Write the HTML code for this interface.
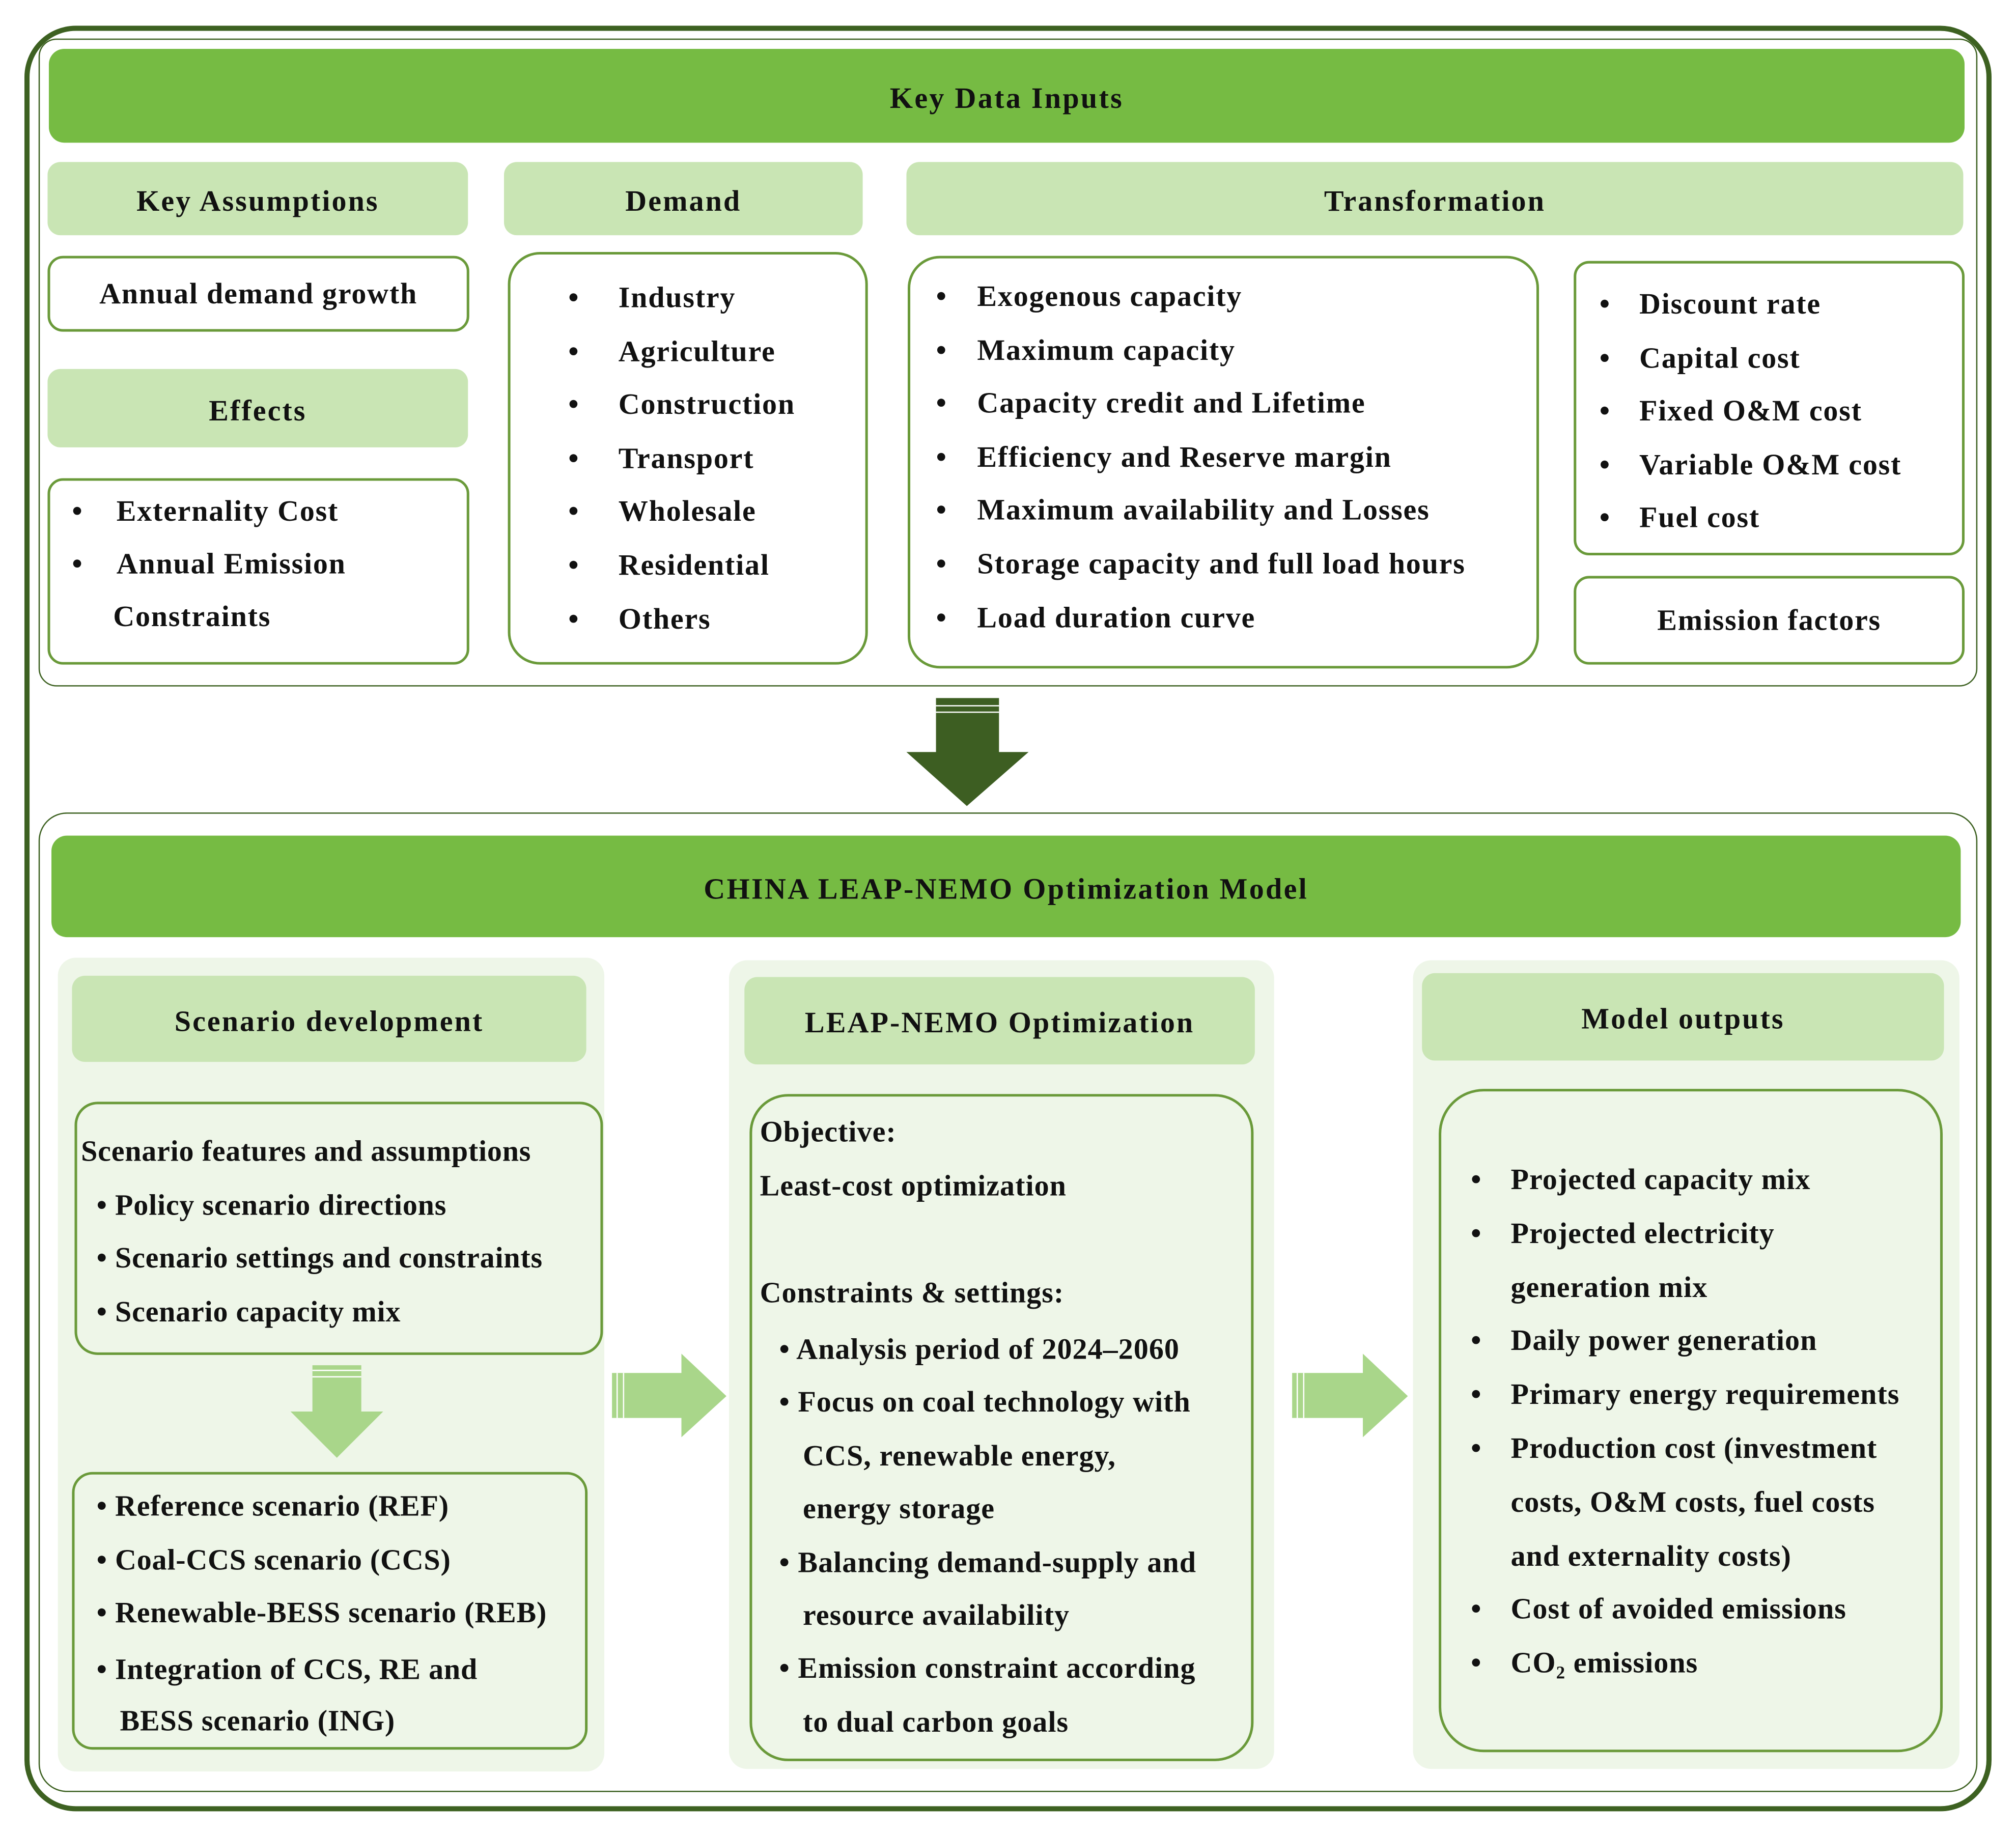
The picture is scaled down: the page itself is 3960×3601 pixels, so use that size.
<!DOCTYPE html>
<html><head><meta charset="utf-8"><style>
html,body{margin:0;padding:0;background:#fff;}
#c{position:absolute;left:0;top:0;width:1568px;height:1426px;transform:scale(2.5255);transform-origin:0 0;font-family:"Liberation Serif",serif;font-size:23px;font-weight:bold;letter-spacing:0.7px;color:#111;}
.a{position:absolute;box-sizing:border-box;}
.hd{background:#c9e5b4;border-radius:10px;display:flex;align-items:center;justify-content:center;letter-spacing:1.2px;padding-top:4px;}
.bx{border:2px solid #6a9a3a;border-radius:12px;background:#fff;}
.bar{background:#76bb43;border-radius:12px;display:flex;align-items:center;justify-content:center;letter-spacing:1.3px;padding-top:4px;}
.t{position:absolute;white-space:nowrap;line-height:28px;margin-top:-6px;}
.pn{background:#eef6e8;border-radius:14px;}
</style></head><body><div id="c">
<div class="a" style="left:19px;top:20px;width:1530px;height:1389px;border:4px solid #3d6121;border-radius:40px;"></div>
<div class="a" style="left:30px;top:30px;width:1508px;height:504px;border:1.5px solid #3d6121;border-radius:14px;"></div>
<div class="a" style="left:30px;top:632px;width:1508px;height:762px;border:1.5px solid #3d6121;border-radius:22px;"></div>

<div class="a bar" style="left:38px;top:38px;width:1490px;height:73px;">Key Data Inputs</div>
<div class="a hd" style="left:37px;top:126px;width:327px;height:57px;">Key Assumptions</div>
<div class="a hd" style="left:392px;top:126px;width:279px;height:57px;">Demand</div>
<div class="a hd" style="left:705px;top:126px;width:822px;height:57px;">Transformation</div>
<div class="a bx" style="left:37px;top:199px;width:328px;height:59px;display:flex;align-items:center;justify-content:center;">Annual demand growth</div>
<div class="a hd" style="left:37px;top:287px;width:327px;height:61px;">Effects</div>
<div class="a bx" style="left:37px;top:372px;width:328px;height:145px;"></div>
<div class="t" style="left:56px;top:390px;">•&nbsp;&nbsp;&nbsp;&nbsp;Externality Cost</div>
<div class="t" style="left:56px;top:431px;">•&nbsp;&nbsp;&nbsp;&nbsp;Annual Emission</div>
<div class="t" style="left:88px;top:472px;">Constraints</div>

<div class="a bx" style="left:395px;top:196px;width:280px;height:321px;border-radius:25px;"></div>
<div class="t" style="left:442px;top:217px;line-height:41.6px;">•<br>•<br>•<br>•<br>•<br>•<br>•</div>
<div class="t" style="left:481px;top:217px;line-height:41.6px;">Industry<br>Agriculture<br>Construction<br>Transport<br>Wholesale<br>Residential<br>Others</div>

<div class="a bx" style="left:706px;top:199px;width:491px;height:321px;border-radius:25px;"></div>
<div class="t" style="left:728px;top:216px;line-height:41.6px;">•<br>•<br>•<br>•<br>•<br>•<br>•</div>
<div class="t" style="left:760px;top:216px;line-height:41.6px;">Exogenous capacity<br>Maximum capacity<br>Capacity credit and Lifetime<br>Efficiency and Reserve margin<br>Maximum availability and Losses<br>Storage capacity and full load hours<br>Load duration curve</div>

<div class="a bx" style="left:1224px;top:203px;width:304px;height:229px;"></div>
<div class="t" style="left:1244px;top:222px;line-height:41.5px;">•<br>•<br>•<br>•<br>•</div>
<div class="t" style="left:1275px;top:222px;line-height:41.5px;">Discount rate<br>Capital cost<br>Fixed O&amp;M cost<br>Variable O&amp;M cost<br>Fuel cost</div>
<div class="a bx" style="left:1224px;top:448px;width:304px;height:69px;display:flex;align-items:center;justify-content:center;">Emission factors</div>

<svg class="a" style="left:0;top:0;" width="1568" height="1426">
<rect x="728" y="543" width="49" height="44" fill="#3d5e22"/>
<line x1="728" y1="549" x2="777" y2="549" stroke="#fff" stroke-width="1"/>
<line x1="728" y1="554" x2="777" y2="554" stroke="#fff" stroke-width="1"/>
<polygon points="705,585 800,585 752,627" fill="#3d5e22"/>
</svg>

<div class="a bar" style="left:40px;top:650px;width:1485px;height:79px;">CHINA LEAP-NEMO Optimization Model</div>
<div class="a pn" style="left:45px;top:745px;width:425px;height:633px;"></div>
<div class="a pn" style="left:567px;top:747px;width:424px;height:629px;"></div>
<div class="a pn" style="left:1099px;top:747px;width:425px;height:629px;"></div>
<div class="a hd" style="left:56px;top:759px;width:400px;height:67px;">Scenario development</div>
<div class="a hd" style="left:579px;top:760px;width:397px;height:68px;">LEAP-NEMO Optimization</div>
<div class="a hd" style="left:1106px;top:757px;width:406px;height:68px;">Model outputs</div>

<div class="a bx" style="left:58px;top:857px;width:411px;height:197px;border-radius:18px;background:#eef6e8;"></div>
<div class="t" style="left:63px;top:881px;line-height:41.6px;letter-spacing:0.3px;">Scenario features and assumptions<br>&nbsp;&nbsp;• Policy scenario directions<br>&nbsp;&nbsp;• Scenario settings and constraints<br>&nbsp;&nbsp;• Scenario capacity mix</div>

<svg class="a" style="left:0;top:0;" width="1568" height="1426">
<rect x="243" y="1062" width="38" height="38" fill="#a9d68a"/>
<line x1="243" y1="1066" x2="281" y2="1066" stroke="#fff" stroke-width="1"/>
<line x1="243" y1="1071" x2="281" y2="1071" stroke="#fff" stroke-width="1"/>
<polygon points="226,1098 298,1098 262,1134" fill="#a9d68a"/>
<rect x="476" y="1068" width="56" height="35" fill="#a9d68a"/>
<line x1="480" y1="1068" x2="480" y2="1103" stroke="#fff" stroke-width="1"/>
<line x1="485" y1="1068" x2="485" y2="1103" stroke="#fff" stroke-width="1"/>
<polygon points="530,1053 530,1118 565,1086" fill="#a9d68a"/>
<rect x="1005" y="1068" width="56" height="35" fill="#a9d68a"/>
<line x1="1009" y1="1068" x2="1009" y2="1103" stroke="#fff" stroke-width="1"/>
<line x1="1014" y1="1068" x2="1014" y2="1103" stroke="#fff" stroke-width="1"/>
<polygon points="1060,1053 1060,1118 1095,1086" fill="#a9d68a"/>
</svg>

<div class="a bx" style="left:56px;top:1145px;width:401px;height:216px;border-radius:16px;background:#eef6e8;"></div>
<div class="t" style="left:63px;top:1157px;line-height:41.6px;letter-spacing:0.3px;">&nbsp;&nbsp;• Reference scenario (REF)<br>&nbsp;&nbsp;• Coal-CCS scenario (CCS)<br>&nbsp;&nbsp;• Renewable-BESS scenario (REB)</div>
<div class="t" style="left:63px;top:1285px;line-height:40px;letter-spacing:0.3px;">&nbsp;&nbsp;• Integration of CCS, RE and<br>&nbsp;&nbsp;&nbsp;&nbsp;&nbsp;BESS scenario (ING)</div>

<div class="a bx" style="left:583px;top:851px;width:392px;height:519px;border-radius:30px;background:#eef6e8;"></div>
<div class="t" style="left:591px;top:866px;line-height:41.6px;letter-spacing:0.4px;">Objective:<br>Least-cost optimization<br><br>Constraints &amp; settings:</div>
<div class="t" style="left:606px;top:1035px;line-height:41.4px;letter-spacing:0.4px;">• Analysis period of 2024–2060<br>• Focus on coal technology with<br>&nbsp;&nbsp;&nbsp;CCS, renewable energy,<br>&nbsp;&nbsp;&nbsp;energy storage<br>• Balancing demand-supply and<br>&nbsp;&nbsp;&nbsp;resource availability<br>• Emission constraint according<br>&nbsp;&nbsp;&nbsp;to dual carbon goals</div>

<div class="a bx" style="left:1119px;top:847px;width:392px;height:516px;border-radius:35px;background:#eef6e8;"></div>
<div class="t" style="left:1144px;top:903px;line-height:41.8px;">•<br>•<br><br>•<br>•<br>•<br><br><br>•<br>•</div>
<div class="t" style="left:1175px;top:903px;line-height:41.8px;letter-spacing:0.4px;">Projected capacity mix<br>Projected electricity<br>generation mix<br>Daily power generation<br>Primary energy requirements<br>Production cost (investment<br>costs, O&amp;M costs, fuel costs<br>and externality costs)<br>Cost of avoided emissions<br>CO₂ emissions</div>
</div></body></html>
